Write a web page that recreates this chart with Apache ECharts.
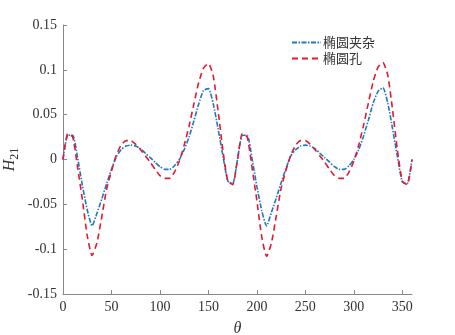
<!DOCTYPE html>
<html>
<head>
<meta charset="utf-8">
<script src="https://cdn.jsdelivr.net/npm/echarts@6/dist/echarts.min.js"></script>
<style>html,body{margin:0;padding:0;background:#fff;}#c{width:455px;height:335px;}</style>
</head>
<body>
<div id="c"></div>
<script>
const theta = [0,5,10,15,20,25,30,35,40,45,50,55,60,65,70,75,80,85,90,95,100,105,110,115,120,125,130,135,140,145,150,155,160,165,170,175,180,
185,190,195,200,205,210,215,220,225,230,235,240,245,250,255,260,265,270,275,280,285,290,295,300,305,310,315,320,325,330,335,340,345,350,355,360];
const inclusion = [0,0.027,0.027,0.002,-0.029,-0.056,-0.074,-0.060,-0.044,-0.027,-0.011,0.003,0.011,0.015,0.016,0.015,0.012,0.007,0.002,-0.003,-0.008,-0.011,-0.011,-0.007,0.000,0.011,0.025,0.043,0.062,0.077,0.079,0.062,0.034,0.004,-0.024,-0.027,0.000,
0.027,0.027,0.001,-0.030,-0.057,-0.074,-0.059,-0.043,-0.026,-0.010,0.004,0.011,0.015,0.016,0.015,0.012,0.007,0.002,-0.003,-0.008,-0.011,-0.011,-0.007,0.000,0.011,0.026,0.044,0.063,0.076,0.080,0.063,0.034,0.003,-0.025,-0.027,0.000];
const hole = [0,0.029,0.025,-0.008,-0.045,-0.085,-0.107,-0.093,-0.064,-0.033,-0.013,0.005,0.016,0.021,0.021,0.017,0.011,0.004,-0.003,-0.011,-0.018,-0.021,-0.021,-0.014,-0.002,0.016,0.037,0.062,0.086,0.102,0.107,0.093,0.054,0.010,-0.024,-0.028,0.000,
0.029,0.025,-0.009,-0.046,-0.086,-0.108,-0.093,-0.063,-0.032,-0.012,0.005,0.016,0.021,0.021,0.017,0.011,0.004,-0.003,-0.011,-0.018,-0.021,-0.021,-0.014,-0.002,0.016,0.038,0.063,0.087,0.103,0.108,0.094,0.055,0.010,-0.024,-0.028,0.000];
const seriesNames = ['椭圆夹杂','椭圆孔'];

const chart = echarts.init(document.getElementById('c'));
const serif = 'Liberation Serif';
chart.setOption({
  animation:false,
  backgroundColor:'#fff',
  grid:{left:63,right:43,top:25,bottom:41,containLabel:false,outerBoundsMode:'none'},
  legend:{
    orient:'vertical', left:286, top:31, itemWidth:29, itemHeight:10, itemGap:3,
    textStyle:{fontFamily:'Noto Sans CJK SC', fontSize:13, color:'#333', padding:[0,0,0,-3]},
    itemStyle:{color:'transparent', borderWidth:0},
    data:seriesNames
  },
  xAxis:{
    type:'value', min:0, max:360, interval:50,
    name:'θ', nameLocation:'middle', nameGap:27, nameMoveOverlap:false,
    nameTextStyle:{fontFamily:serif, fontStyle:'italic', fontSize:16, color:'#333'},
    axisLine:{onZero:false, lineStyle:{color:'#888'}},
    axisTick:{inside:true, length:4, lineStyle:{color:'#888'}},
    axisLabel:{fontFamily:serif, fontSize:14, color:'#333', margin:6},
    splitLine:{show:false}
  },
  yAxis:{
    type:'value', min:-0.15, max:0.15, interval:0.05,
    name:'{i|H}{s|21}', nameLocation:'middle', nameGap:42, nameRotate:90, nameMoveOverlap:false,
    nameTextStyle:{rich:{
      i:{fontFamily:serif, fontStyle:'italic', fontSize:16, color:'#333'},
      s:{fontFamily:serif, fontSize:12, color:'#333', verticalAlign:'bottom', padding:[10,0,0,0]}
    }},
    axisLine:{show:true, onZero:false, lineStyle:{color:'#888'}},
    axisTick:{show:true, inside:true, length:4, lineStyle:{color:'#888'}},
    axisLabel:{fontFamily:serif, fontSize:14, color:'#333', margin:6,
      formatter:v=>String(parseFloat(v.toFixed(2)))},
    splitLine:{show:false}
  },
  series:[
    {name:seriesNames[0], type:'line', showSymbol:false, symbol:'none', smooth:0.2,
     data:theta.map((t,i)=>[t,inclusion[i]]),
     lineStyle:{color:'#1f78bd', width:1.6, type:[5,1.5,1.5,1.5]}, itemStyle:{color:'#1f78bd'}},
    {name:seriesNames[1], type:'line', showSymbol:false, symbol:'none', smooth:0.2,
     data:theta.map((t,i)=>[t,hole[i]]),
     lineStyle:{color:'#e8172f', width:1.6, type:[6,4]}, itemStyle:{color:'#e8172f'}}
  ]
});
</script>
</body>
</html>
